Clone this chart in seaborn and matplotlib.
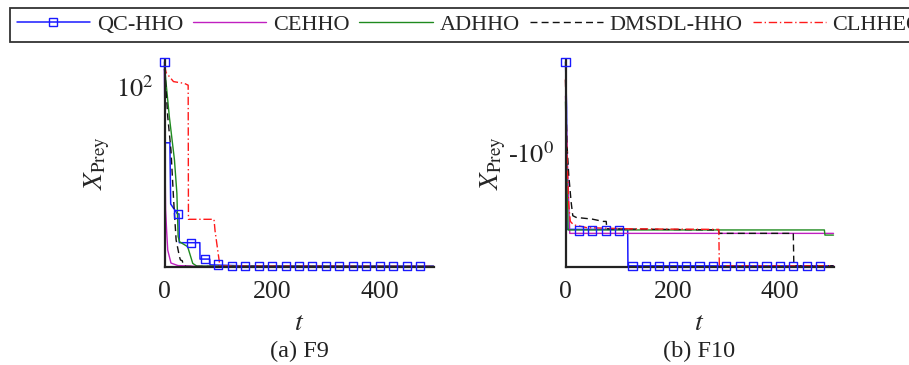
import matplotlib
matplotlib.use("Agg")
import matplotlib.pyplot as plt
from matplotlib.lines import Line2D
import seaborn as sns

# === DATA ===
algorithms = ["QC-HHO", "CEHHO", "ADHHO", "DMSDL-HHO", "CLHHEO"]
colors = {"QC-HHO": "#1a1aff", "CEHHO": "#c020c0", "ADHHO": "#1f8a1f",
          "DMSDL-HHO": "#111111", "CLHHEO": "#ff1a1a"}
styles = {"QC-HHO": "-", "CEHHO": "-", "ADHHO": "-",
          "DMSDL-HHO": (0, (5, 3)), "CLHHEO": (0, (6, 2, 1, 2))}
widths = {"QC-HHO": 1.1, "CEHHO": 1.0, "ADHHO": 1.0, "DMSDL-HHO": 1.0, "CLHHEO": 1.0}

# (a) F9 : iteration t and prey fitness (linear axis, tick at 100 shown as 10^2)
t_qc_a = [0, 1, 10, 11.5, 23.7, 27, 27.5, 65.7, 66, 84, 84.5, 150, 500]
y_qc_a = [114, 69, 69, 35, 29.6, 29.5, 13.5, 13.5, 4.4, 4.4, 1.2, 0.6, 0.5]
t_ce_a = [0, 1, 2, 4, 6, 12, 25, 60, 500]
y_ce_a = [110, 60, 32, 20, 9.4, 2.2, 0.8, 0.4, 0.3]
t_ad_a = [0, 3, 9, 18.5, 23, 25.3, 28, 43, 52.5, 60, 500]
y_ad_a = [112, 102, 83.5, 59.5, 41, 17, 14, 11.3, 2, 0.5, 0.3]
t_dm_a = [0, 2, 6, 12, 17, 21.6, 27.8, 29.6, 33, 35, 40, 500]
y_dm_a = [110, 103, 83.5, 65, 37, 15, 5.7, 3.9, 3.5, 1, 0.3, 0.2]
t_cl_a = [0, 3, 16.7, 37, 44, 44.5, 92, 94, 103, 500]
y_cl_a = [112, 108, 103, 102, 101, 26.5, 26.5, 20, 0.5, 0.3]

# (b) F10 : linear axis, tick at -1 shown as -10^0
t_qc_b = [0, 2, 3, 116, 116.5, 500]
y_qc_b = [-0.20, -0.6, -1.67, -1.67, -1.99, -1.99]
t_ce_b = [0, 5, 8, 500]
y_ce_b = [-0.5, -1.3, -1.705, -1.705]
t_ad_b = [0, 3, 5, 483, 484, 500]
y_ad_b = [-0.55, -1.3, -1.675, -1.675, -1.72, -1.72]
t_dm_b = [0, 2.5, 6, 10.5, 13.6, 20, 50, 70, 76, 77, 285, 287, 425, 426, 500]
y_dm_b = [-0.36, -0.9, -1.19, -1.43, -1.55, -1.565, -1.58, -1.60, -1.60, -1.665,
          -1.675, -1.705, -1.705, -1.99, -1.99]
t_cl_b = [0, 2, 4, 6, 9, 15, 40, 120, 286, 287, 500]
y_cl_b = [-0.35, -0.9, -1.2, -1.45, -1.6, -1.63, -1.655, -1.665, -1.67, -1.99, -1.99]

# QC-HHO square markers, every 25 iterations
t_mark = [0, 25, 50, 75, 100, 125, 150, 175, 200, 225, 250, 275, 300, 325, 350,
          375, 400, 425, 450, 475]
y_mark_a = [114, 29.5, 13.5, 4.2, 1.4, 0.8, 0.6, 0.5, 0.5, 0.5, 0.5, 0.5, 0.5,
            0.5, 0.5, 0.5, 0.5, 0.5, 0.5, 0.5]
y_mark_b = [-0.20, -1.68, -1.68, -1.68, -1.68, -1.99, -1.99, -1.99, -1.99, -1.99,
            -1.99, -1.99, -1.99, -1.99, -1.99, -1.99, -1.99, -1.99, -1.99, -1.99]

panels = [
    {"series": {"QC-HHO": (t_qc_a, y_qc_a), "CEHHO": (t_ce_a, y_ce_a),
                "ADHHO": (t_ad_a, y_ad_a), "DMSDL-HHO": (t_dm_a, y_dm_a),
                "CLHHEO": (t_cl_a, y_cl_a)},
     "marks": y_mark_a, "ylim": (0, 115), "ytick": 100, "ylab": r"$10^2$",
     "title": "(a) F9", "labx": -0.195},
    {"series": {"QC-HHO": (t_qc_b, y_qc_b), "CEHHO": (t_ce_b, y_ce_b),
                "ADHHO": (t_ad_b, y_ad_b), "DMSDL-HHO": (t_dm_b, y_dm_b),
                "CLHHEO": (t_cl_b, y_cl_b)},
     "marks": y_mark_b, "ylim": (-2.0, -0.184), "ytick": -1, "ylab": r"-$10^0$",
     "title": "(b) F10", "labx": -0.215},
]

# === PLOT ===
sns.set_style("white")
plt.rcParams["font.family"] = ["Liberation Serif", "DejaVu Serif"]
plt.rcParams["mathtext.fontset"] = "stix"

fig = plt.figure(figsize=(9.09, 3.65), dpi=100)
boxes = [[164.5 / 909, 1 - 267 / 365, 269 / 909, 207 / 365],
         [565.5 / 909, 1 - 267 / 365, 268 / 909, 207 / 365]]

for box, p in zip(boxes, panels):
    ax = fig.add_axes(box)
    for name in algorithms:
        tt, yy = p["series"][name]
        sns.lineplot(x=tt, y=yy, ax=ax, estimator=None, sort=False,
                     color=colors[name], linewidth=widths[name],
                     linestyle=styles[name], clip_on=False)
    sns.scatterplot(x=t_mark, y=p["marks"], ax=ax, marker="s", s=34,
                    color="none", edgecolor=colors["QC-HHO"], linewidth=1.0,
                    clip_on=False, zorder=5)
    ax.set_xlim(0, 500)
    ax.set_ylim(*p["ylim"])
    ax.set_xticks([0, 200, 400])
    ax.set_xticklabels(["0", "200", "400"])
    ax.set_yticks([p["ytick"]])
    ax.set_yticklabels([p["ylab"]])
    ax.tick_params(axis="x", length=0, labelsize=18.5, pad=10, colors="#222222")
    ax.tick_params(axis="y", length=0, labelsize=19, pad=8, colors="#222222")
    sns.despine(ax=ax)
    for s in ["left", "bottom"]:
        ax.spines[s].set_linewidth(1.6)
        ax.spines[s].set_color("#222222")
    ax.set_xlabel(r"$t$", fontsize=20, labelpad=6)
    ax.set_ylabel(r"$X_{\mathrm{Prey}}$", fontsize=19.5)
    ax.yaxis.set_label_coords(p["labx"], 0.5)
    fig.text(box[0] + box[2] / 2, 1 - 351 / 365, p["title"], fontsize=17.5,
             ha="center", va="center", color="#222222")

handles = []
for name in algorithms:
    if name == "QC-HHO":
        h = Line2D([], [], color=colors[name], lw=widths[name], marker="s",
                   markersize=6, markerfacecolor="none")
    else:
        h = Line2D([], [], color=colors[name], lw=widths[name], linestyle=styles[name])
    handles.append(h)

leg = fig.legend(handles, algorithms, loc="upper left", ncol=5,
                 bbox_to_anchor=(10 / 909, 1 - 8 / 365), fontsize=16,
                 frameon=True, fancybox=False, framealpha=1, borderpad=0.3,
                 handlelength=3.3, handletextpad=0.3, columnspacing=0.45,
                 borderaxespad=0)
leg.get_frame().set_edgecolor("#333333")
leg.get_frame().set_linewidth(1.3)

fig.savefig("out.png", dpi=100)
